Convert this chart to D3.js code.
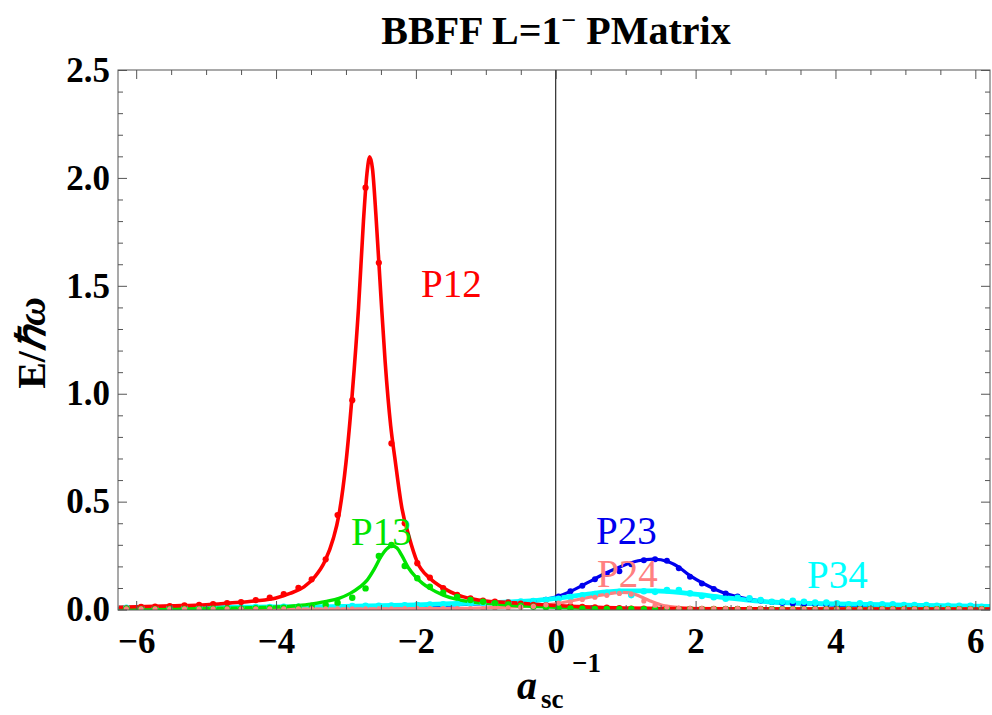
<!DOCTYPE html>
<html>
<head>
<meta charset="utf-8">
<script src="https://cdn.jsdelivr.net/npm/d3@7"></script>
<style>
  html, body { margin: 0; padding: 0; background: #fff; }
  svg { display: block; }
  text { font-family: "Liberation Serif", "Times New Roman", serif; }
</style>
</head>
<body>
<svg id="chart" width="992" height="715"></svg>
<script>
// ---- data ---------------------------------------------------------------
const xTicks = [-6, -4, -2, 0, 2, 4, 6];
const yTicks = [0, 0.5, 1.0, 1.5, 2.0, 2.5];

// smooth fitted curves: [x, E] pairs
const lineP12 = [[-6.25,0.011],[-6.0,0.013],[-5.5,0.017],[-5.0,0.022],[-4.67,0.030],[-4.3,0.040],[-4.0,0.054],[-3.8,0.075],[-3.6,0.105],[-3.45,0.150],[-3.3,0.225],[-3.18,0.33],[-3.10,0.44],[-3.0,0.68],[-2.91,1.0],[-2.82,1.40],[-2.75,1.80],[-2.70,2.02],[-2.66,2.098],[-2.62,2.04],[-2.57,1.82],[-2.50,1.45],[-2.44,1.15],[-2.36,0.85],[-2.30,0.70],[-2.20,0.47],[-2.10,0.34],[-1.98,0.22],[-1.80,0.145],[-1.60,0.098],[-1.40,0.067],[-1.20,0.050],[-1.0,0.040],[-0.8,0.035],[-0.6,0.031],[-0.4,0.027],[-0.2,0.022],[0.0,0.019],[0.3,0.014],[0.6,0.010],[1.0,0.007],[1.5,0.005],[2.0,0.004],[3.0,0.003],[4.5,0.002],[6.25,0.002]];
const lineP13 = [[-6.25,0.003],[-5.5,0.004],[-5.0,0.005],[-4.5,0.008],[-4.0,0.012],[-3.7,0.018],[-3.5,0.025],[-3.3,0.037],[-3.1,0.052],[-2.94,0.075],[-2.80,0.105],[-2.70,0.135],[-2.60,0.185],[-2.50,0.245],[-2.42,0.280],[-2.34,0.296],[-2.27,0.285],[-2.20,0.250],[-2.11,0.195],[-2.0,0.150],[-1.90,0.120],[-1.80,0.098],[-1.61,0.067],[-1.41,0.047],[-1.22,0.036],[-1.0,0.029],[-0.84,0.025],[-0.6,0.019],[-0.36,0.015],[0.0,0.010],[0.5,0.006],[1.0,0.004],[2.0,0.003],[4.0,0.002],[6.25,0.002]];
const lineP23 = [[-6.25,0.004],[-5.0,0.005],[-4.0,0.007],[-3.0,0.010],[-2.0,0.016],[-1.5,0.021],[-1.0,0.027],[-0.5,0.035],[0.0,0.058],[0.25,0.090],[0.47,0.127],[0.71,0.168],[0.95,0.202],[1.18,0.226],[1.40,0.234],[1.61,0.222],[1.76,0.197],[1.90,0.162],[2.14,0.116],[2.38,0.080],[2.62,0.058],[2.85,0.044],[3.12,0.033],[3.5,0.027],[4.0,0.021],[5.0,0.016],[6.25,0.012]];
const lineP24 = [[-6.25,0.002],[-3.0,0.003],[-1.5,0.005],[-1.0,0.008],[-0.5,0.014],[-0.25,0.020],[0.0,0.027],[0.25,0.042],[0.5,0.058],[0.75,0.073],[0.92,0.080],[1.05,0.078],[1.2,0.062],[1.35,0.040],[1.5,0.022],[1.7,0.011],[2.0,0.006],[3.0,0.004],[6.25,0.003]];
const lineP34 = [[-6.25,0.008],[-5.0,0.010],[-4.0,0.012],[-3.2,0.014],[-2.5,0.018],[-2.0,0.022],[-1.5,0.027],[-1.0,0.032],[-0.36,0.040],[0.0,0.052],[0.46,0.072],[0.95,0.086],[1.42,0.087],[1.90,0.075],[2.38,0.057],[2.85,0.040],[3.14,0.034],[3.5,0.030],[4.0,0.026],[5.0,0.021],[6.25,0.015]];

// sampled points (shared inverse-scattering-length grid); null = no sample
const dotX = [-6.14,-5.93,-5.73,-5.52,-5.31,-5.10,-4.90,-4.70,-4.50,-4.29,-4.09,-3.89,-3.68,-3.49,-3.29,-3.12,-2.91,-2.72,-2.53,-2.35,-2.16,-1.98,-1.80,-1.61,-1.41,-1.22,-1.04,-0.87,-0.68,-0.50,-0.32,-0.14,0.04,0.21,0.38,0.56,0.73,0.91,1.08,1.26,1.42,1.59,1.76,1.92,2.09,2.26,2.43,2.60,2.77,2.93,3.09,3.24,3.39,3.55,3.71,3.87,4.02,4.19,4.35,4.50,4.67,4.82,4.98,5.13,5.30,5.45,5.61,5.77,5.93,6.09];
const dotsP12 = [0.006,0.013,0.014,0.016,0.019,0.022,0.025,0.030,0.035,0.044,0.055,0.072,0.101,0.140,0.233,0.438,0.97,1.955,1.607,0.77,0.40,0.215,0.148,0.100,0.068,0.052,0.042,0.037,0.033,0.028,0.022,0.019,0.017,0.016,0.013,0.010,0.009,0.007,0.005,0.004,0.004,0.004,0.003,0.003,0.003,0.003,0.003,0.003,0.003,0.003,0.002,0.002,0.002,0.002,0.002,0.002,0.002,0.002,0.002,0.002,0.002,0.002,0.002,0.002,0.002,0.002,0.002,0.002,0.002,0.002];
const dotsP13 = [0.004,0.002,0.002,0.003,0.003,0.003,0.004,0.005,0.005,0.006,0.008,0.009,0.013,0.018,0.021,0.032,0.055,0.098,0.248,0.299,0.202,0.145,0.106,0.078,0.059,0.044,0.036,0.029,0.024,0.018,0.013,0.010,0.007,0.005,0.004,0.003,0.003,0.003,0.003,0.002,0.002,0.002,0.002,0.002,0.002,0.002,0.002,0.002,0.002,0.002,0.002,0.002,0.002,0.002,0.002,0.002,0.002,0.002,0.002,0.002,0.002,0.002,0.002,0.002,0.002,0.002,0.002,0.002,0.002,0.002];
const dotsP23 = [null,null,null,null,null,null,null,null,null,null,null,null,null,null,null,null,null,null,null,null,null,null,null,null,null,null,null,null,0.031,0.034,0.038,0.046,0.060,0.085,0.110,0.140,0.165,0.178,0.210,0.229,0.233,0.226,0.191,0.152,0.121,0.095,0.075,0.061,0.050,0.042,0.035,0.030,0.028,0.026,0.024,0.022,0.021,0.020,0.019,0.018,0.017,0.016,0.015,0.015,0.014,0.013,0.013,0.012,0.012,0.011];
const dotsP24 = [0.003,0.003,0.003,0.003,0.003,0.003,0.003,0.003,0.003,0.003,0.003,0.003,0.003,0.003,0.003,0.003,0.003,0.003,0.003,0.003,0.004,0.004,0.004,0.004,0.004,0.004,0.005,0.006,0.008,0.011,0.015,0.022,0.030,0.036,0.047,0.057,0.066,0.075,0.072,0.040,0.020,0.010,0.006,0.005,0.004,0.004,0.004,0.004,0.004,0.004,0.003,0.003,0.003,0.003,0.003,0.003,0.003,0.003,0.003,0.003,0.003,0.003,0.003,0.003,0.003,0.003,0.003,0.003,0.003,0.003];
const dotsP34 = [0.008,0.009,0.009,0.009,0.010,0.010,0.011,0.011,0.011,0.012,0.012,0.013,0.013,0.014,0.014,0.015,0.016,0.017,0.018,0.019,0.020,0.021,0.023,0.024,0.026,0.028,0.030,0.032,0.034,0.037,0.040,0.044,0.050,0.058,0.066,0.072,0.078,0.082,0.067,0.085,0.082,0.090,0.090,0.075,0.063,0.057,0.050,0.055,0.052,0.044,0.036,0.036,0.041,0.036,0.032,0.032,0.029,0.024,0.029,0.024,0.024,0.024,0.021,0.021,0.021,0.018,0.018,0.018,0.018,0.013];

const seriesNames = ["P12", "P13", "P23", "P24", "P34"];
const seriesColors = { P12: "#ff0000", P13: "#00e400", P23: "#0000ee", P24: "#ff8080", P34: "#00ffff" };

// ---- layout -------------------------------------------------------------
const svg = d3.select("#chart");
const plotLeft = 118, plotRight = 990, plotTop = 70, plotBottom = 610;

const x = d3.scaleLinear().domain([-6.26, 6.21]).range([plotLeft, plotRight]);
const y = d3.scaleLinear().domain([-0.002, 2.5]).range([plotBottom, plotTop]);

svg.append("defs").append("clipPath").attr("id", "plotArea")
  .append("rect").attr("x", plotLeft).attr("y", plotTop)
  .attr("width", plotRight - plotLeft).attr("height", plotBottom - plotTop);

// vertical axis line through x = 0
svg.append("line")
  .attr("x1", x(0)).attr("x2", x(0)).attr("y1", plotTop).attr("y2", plotBottom)
  .attr("stroke", "#000").attr("stroke-width", 1);

// ---- curves -------------------------------------------------------------
const line = d3.line().x(d => x(d[0])).y(d => y(d[1])).curve(d3.curveMonotoneX);
const plot = svg.append("g").attr("clip-path", "url(#plotArea)");

const curves = [
  { key: "P23", data: lineP23, w: 3.2 },
  { key: "P34", data: lineP34, w: 4.8 },
  { key: "P24", data: lineP24, w: 3.2 },
  { key: "P13", data: lineP13, w: 3.4 },
  { key: "P12", data: lineP12, w: 3.6 }
];
curves.forEach(c => {
  plot.append("path").datum(c.data)
    .attr("d", line)
    .attr("fill", "none")
    .attr("stroke", seriesColors[c.key])
    .attr("stroke-width", c.w)
    .attr("stroke-linejoin", "round");
});

// ---- sampled points ---------------------------------------------------------
const dotSets = [
  { key: "P23", vals: dotsP23, r: 3.0 },
  { key: "P34", vals: dotsP34, r: 3.3 },
  { key: "P12", vals: dotsP12, r: 3.1 },
  { key: "P13", vals: dotsP13, r: 3.2 },
  { key: "P24", vals: dotsP24, r: 2.6 }
];
dotSets.forEach(s => {
  plot.append("g").selectAll("circle")
    .data(dotX.map((xv, i) => [xv, s.vals[i]]).filter(d => d[1] != null))
    .join("circle")
    .attr("cx", d => x(d[0]))
    .attr("cy", d => y(d[1]))
    .attr("r", s.r)
    .attr("fill", seriesColors[s.key]);
});

// ---- frame and ticks ----------------------------------------------------
const frameColor = "#555";
const tickFont = g => g.selectAll("text")
  .attr("font-family", "'Liberation Serif', 'Times New Roman', serif")
  .attr("font-weight", "bold")
  .attr("font-size", 35)
  .attr("fill", "#000");

function styleAxis(g) {
  g.select(".domain").remove();
  g.selectAll("line").attr("stroke", frameColor).attr("stroke-width", 1);
}

const yMinor = d3.range(0, 2.5001, 0.1).filter(v => Math.abs(v * 2 - Math.round(v * 2)) > 1e-6);
const xMinor = d3.range(-6, 6.001, 0.5).filter(v => Math.abs(v / 2 - Math.round(v / 2)) > 1e-6);

// left
svg.append("g").attr("transform", `translate(${plotLeft},0)`)
  .call(d3.axisLeft(y).tickValues(yTicks).tickSize(-9).tickPadding(8).tickFormat(d3.format(".1f")))
  .call(styleAxis).call(tickFont);
svg.append("g").attr("transform", `translate(${plotLeft},0)`)
  .call(d3.axisLeft(y).tickValues(yMinor).tickSize(-5).tickFormat(""))
  .call(styleAxis);
// right
svg.append("g").attr("transform", `translate(${plotRight},0)`)
  .call(d3.axisRight(y).tickValues(yTicks).tickSize(-9).tickFormat(""))
  .call(styleAxis);
svg.append("g").attr("transform", `translate(${plotRight},0)`)
  .call(d3.axisRight(y).tickValues(yMinor).tickSize(-5).tickFormat(""))
  .call(styleAxis);
// bottom
svg.append("g").attr("transform", `translate(0,${plotBottom})`)
  .call(d3.axisBottom(x).tickValues(xTicks).tickSize(-9).tickPadding(18).tickFormat(d3.format("d")))
  .call(styleAxis).call(tickFont);
svg.append("g").attr("transform", `translate(0,${plotBottom})`)
  .call(d3.axisBottom(x).tickValues(xMinor).tickSize(-5).tickFormat(""))
  .call(styleAxis);
// top
svg.append("g").attr("transform", `translate(0,${plotTop})`)
  .call(d3.axisTop(x).tickValues(xTicks).tickSize(-9).tickFormat(""))
  .call(styleAxis);
svg.append("g").attr("transform", `translate(0,${plotTop})`)
  .call(d3.axisTop(x).tickValues(xMinor).tickSize(-5).tickFormat(""))
  .call(styleAxis);

svg.append("rect")
  .attr("x", plotLeft).attr("y", plotTop).attr("width", plotRight - plotLeft).attr("height", plotBottom - plotTop)
  .attr("fill", "none").attr("stroke", frameColor).attr("stroke-width", 1);

// ---- title and axis labels ------------------------------------------------
const title = svg.append("text")
  .attr("x", 556).attr("y", 44)
  .attr("text-anchor", "middle")
  .attr("font-weight", "bold").attr("font-size", 40);
title.append("tspan").text("BBFF L=1");
title.append("tspan").attr("font-size", 26).attr("dy", -15).text("\u2212");
title.append("tspan").attr("dy", 15).text(" PMatrix");

// vertical label E/ħω
const yl = svg.append("text")
  .attr("transform", "translate(45,343) rotate(-90)")
  .attr("text-anchor", "middle")
  .attr("font-weight", "bold").attr("font-size", 40);
yl.append("tspan").text("E/");
yl.append("tspan").attr("font-style", "italic").text("\u210F\u03C9");

// horizontal label a_sc^-1
const xl = svg.append("g");
xl.append("text").attr("x", 517).attr("y", 699)
  .attr("font-weight", "bold").attr("font-style", "italic").attr("font-size", 40).text("a");
xl.append("text").attr("x", 541).attr("y", 708)
  .attr("font-weight", "bold").attr("font-size", 27).text("sc");
xl.append("text").attr("x", 572).attr("y", 672)
  .attr("font-weight", "bold").attr("font-size", 27).text("\u22121");

// ---- series labels ------------------------------------------------------
const seriesLabelPos = { P12: [421, 297], P13: [351, 545], P23: [596, 544], P24: [597, 587], P34: [807, 588] };
seriesNames.forEach(k => {
  svg.append("text")
    .attr("x", seriesLabelPos[k][0]).attr("y", seriesLabelPos[k][1])
    .attr("font-size", 39)
    .attr("fill", seriesColors[k])
    .text(k);
});
</script>
</body>
</html>
